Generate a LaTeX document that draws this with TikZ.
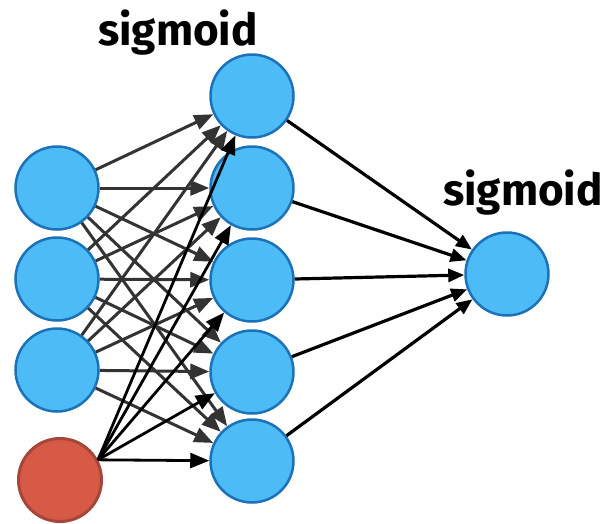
\documentclass[tikz,border=0pt]{standalone}
\usepackage{fontspec}
\setmainfont{Fira Sans}
\usetikzlibrary{arrows.meta}
\definecolor{nodeblue}{HTML}{4DBBF5}
\definecolor{edgeblue}{HTML}{1B72B8}
\definecolor{biasred}{HTML}{D65A45}
\definecolor{biasedge}{HTML}{A6463A}
\begin{document}
\begin{tikzpicture}[x=1pt,y=-1pt,
  neuron/.style={circle, minimum size=83pt, inner sep=0pt, line width=2.5pt, draw=edgeblue, fill=nodeblue},
  biasnode/.style={neuron, draw=biasedge, fill=biasred, line width=3pt},
  intip/.style={-{Triangle[length=19pt,width=15pt]}},
  outtip/.style={-{Triangle[length=16pt,width=13pt]}},
  inedge/.style={intip, line width=3pt, black!80},
  biasedgeline/.style={intip, line width=2.8pt, black},
  outedge/.style={outtip, line width=3.2pt, black},
  lab/.style={font=\bfseries\fontsize{44}{52}\selectfont, anchor=base, inner sep=0pt}
]
\useasboundingbox (0,0) rectangle (608,523);
\node[neuron] (i1) at (57,188) {};
\node[neuron] (i2) at (57,279) {};
\node[neuron] (i3) at (57,370) {};
\node[biasnode] (b) at (60,480) {};
\node[neuron] (h1) at (252,96) {};
\node[neuron] (h2) at (252,188) {};
\node[neuron] (h3) at (252,280) {};
\node[neuron] (h4) at (252,372) {};
\node[neuron] (h5) at (252,461) {};
\node[neuron] (o) at (507,274) {};
\coordinate (bp) at (b.28);
\foreach \i in {i1,i2,i3}{
  \foreach \h in {h1,h2,h3,h4,h5}{
    \draw[inedge] (\i) -- (\h);
  }
}
\foreach \h in {h1,h2,h3,h4,h5}{
  \draw[biasedgeline] (bp) -- (\h);
  \draw[outedge] (\h) -- (o);
}
\node[lab] (l1) at (178,45) {sigmoid};
\node[lab] (l2) at (523,205) {sigmoid};
\end{tikzpicture}
\end{document}
